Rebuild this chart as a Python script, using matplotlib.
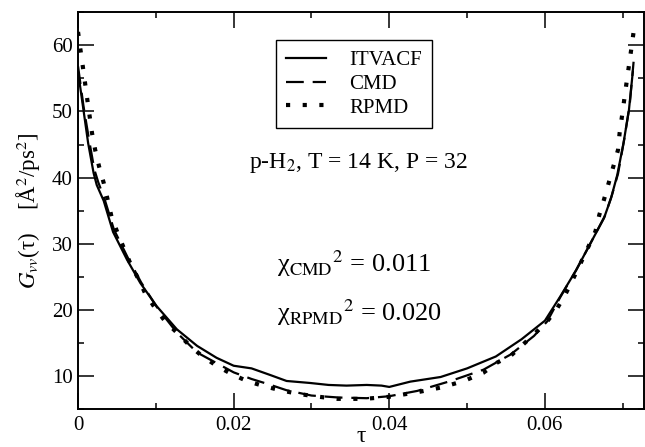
import matplotlib
matplotlib.use("Agg")
import matplotlib.pyplot as plt
from matplotlib.ticker import MultipleLocator

# ITVACF (solid)
tau_itv = [0, 0.0007, 0.0013, 0.002, 0.0024, 0.0033, 0.0045, 0.0063, 0.008, 0.0101,
           0.0127, 0.0153, 0.0178, 0.020, 0.0223, 0.0247, 0.0268, 0.0298, 0.0322,
           0.0345, 0.0371, 0.0390, 0.0400, 0.0427, 0.0466, 0.050, 0.0537, 0.0570,
           0.0600, 0.0620, 0.0640, 0.0660, 0.0676, 0.0685, 0.0693, 0.0701, 0.0708, 0.0713]
g_itv = [56.0, 50.2, 45.2, 40.7, 38.9, 36.5, 31.8, 27.6, 24.1, 20.6,
         17.1, 14.6, 12.8, 11.6, 11.2, 10.2, 9.3, 9.0, 8.7,
         8.6, 8.7, 8.6, 8.4, 9.2, 9.9, 11.2, 13.0, 15.6,
         18.4, 22.1, 26.0, 30.4, 33.9, 36.9, 40.4, 45.2, 50.2, 56.0]

# CMD (dashed)
tau_cmd = [0, 0.0007, 0.0014, 0.0021, 0.0026, 0.0034, 0.0046, 0.0064, 0.0081, 0.0101,
           0.0127, 0.0153, 0.0178, 0.020, 0.0223, 0.0245, 0.0268, 0.030, 0.0335,
           0.0371, 0.040, 0.0436, 0.0479, 0.0521, 0.0556, 0.0586, 0.0603, 0.062,
           0.064, 0.066, 0.0677, 0.0686, 0.0694, 0.0702, 0.0709, 0.0714]
g_cmd = [56.8, 50.8, 45.8, 41.2, 39.3, 36.8, 32.2, 27.9, 24.2, 20.5,
         16.6, 13.6, 12.0, 10.6, 9.6, 8.8, 7.9, 7.1, 6.8,
         6.7, 7.0, 7.8, 9.3, 11.0, 13.3, 16.1, 18.3, 22.0,
         26.0, 30.4, 34.2, 37.3, 40.6, 45.8, 51.0, 57.5]

# RPMD (dotted)
tau_rpmd = [0, 0.0003, 0.0006, 0.0009, 0.0012, 0.0015, 0.0018, 0.0022, 0.0027, 0.0033,
            0.0038, 0.0043, 0.005, 0.0058, 0.0067, 0.0078, 0.0086, 0.0099, 0.0112,
            0.0127, 0.0144, 0.0159, 0.0178, 0.0198, 0.0217, 0.0238, 0.026, 0.0281,
            0.0303, 0.0333, 0.0368, 0.0399, 0.0436, 0.0466, 0.0496, 0.0521, 0.0539,
            0.0556, 0.0584, 0.0603, 0.0616, 0.0626, 0.0637, 0.0646, 0.0656, 0.0665,
            0.067, 0.0676, 0.0682, 0.0688, 0.0694, 0.0696, 0.0699, 0.0702, 0.0705,
            0.0708, 0.0711, 0.0714]
g_rpmd = [62.0, 59.4, 56.9, 54.3, 51.7, 49.2, 46.7, 44.2, 41.7, 39.2,
          36.7, 34.1, 31.9, 29.6, 27.1, 24.6, 22.6, 20.3, 18.3,
          16.6, 14.6, 13.1, 11.6, 10.3, 9.3, 8.55, 7.9, 7.4,
          7.0, 6.6, 6.6, 6.9, 7.6, 8.3, 9.3, 10.55, 12.1,
          13.1, 16.1, 18.3, 20.3, 22.3, 24.9, 27.1, 29.6, 31.9,
          34.4, 36.7, 39.2, 41.7, 44.2, 46.7, 49.2, 51.8, 54.4,
          56.9, 59.4, 62.0]

plt.rcParams["font.family"] = ["Liberation Serif", "DejaVu Serif"]
plt.rcParams["mathtext.fontset"] = "stix"

fig = plt.figure(figsize=(6.45, 4.47), dpi=100)
ax = fig.add_axes([0.121, 0.084, 0.877, 0.889])

ax.plot(tau_itv, g_itv, color="black", lw=1.6, label="ITVACF")
ax.plot(tau_cmd, g_cmd, color="black", lw=1.6, ls=(0, (8, 4)), label="CMD")
ax.plot(tau_rpmd, g_rpmd, color="black", lw=3.0, ls=(0, (1, 3)), label="RPMD")

ax.set_xlim(0, 0.0727)
ax.set_ylim(5, 65)
ax.xaxis.set_major_locator(MultipleLocator(0.02))
ax.xaxis.set_minor_locator(MultipleLocator(0.01))
ax.yaxis.set_major_locator(MultipleLocator(10))
ax.yaxis.set_minor_locator(MultipleLocator(5))
ax.set_xticks([0, 0.02, 0.04, 0.06])
ax.set_xticklabels(["0", "0.02", "0.04", "0.06"])
ax.tick_params(which="both", direction="in", top=True, right=True, width=1.1,
               labelsize=15, colors="black")
ax.tick_params(which="major", length=11.5)
ax.tick_params(which="minor", length=4.5)
ax.tick_params(axis="x", pad=5)
ax.tick_params(axis="y", pad=4)
for s in ax.spines.values():
    s.set_linewidth(1.4)

ax.set_xlabel("τ", fontsize=17, labelpad=-7)
ax.set_ylabel(r"$G_{vv}$(τ)    [Å$^2$/ps$^2$]", fontsize=16.5, labelpad=6)

leg = ax.legend(loc="upper left", bbox_to_anchor=(0.35, 0.929), fontsize=15,
                frameon=True, fancybox=False, edgecolor="black", framealpha=1,
                handlelength=1.9, handletextpad=1.1, labelspacing=0.2,
                borderpad=0.5, borderaxespad=0)
leg.get_frame().set_linewidth(1.0)

ax.text(0.495, 0.62, r"p-H$_2$, T = 14 K, P = 32", transform=ax.transAxes,
        fontsize=17, ha="center", va="center")
ax.text(0.352, 0.345, r"χ$_{\rm CMD}{}^2$ = 0.011", transform=ax.transAxes,
        fontsize=19, ha="left", va="baseline")
ax.text(0.352, 0.222, r"χ$_{\rm RPMD}{}^2$ = 0.020", transform=ax.transAxes,
        fontsize=19, ha="left", va="baseline")

fig.savefig("out.png", dpi=100)
